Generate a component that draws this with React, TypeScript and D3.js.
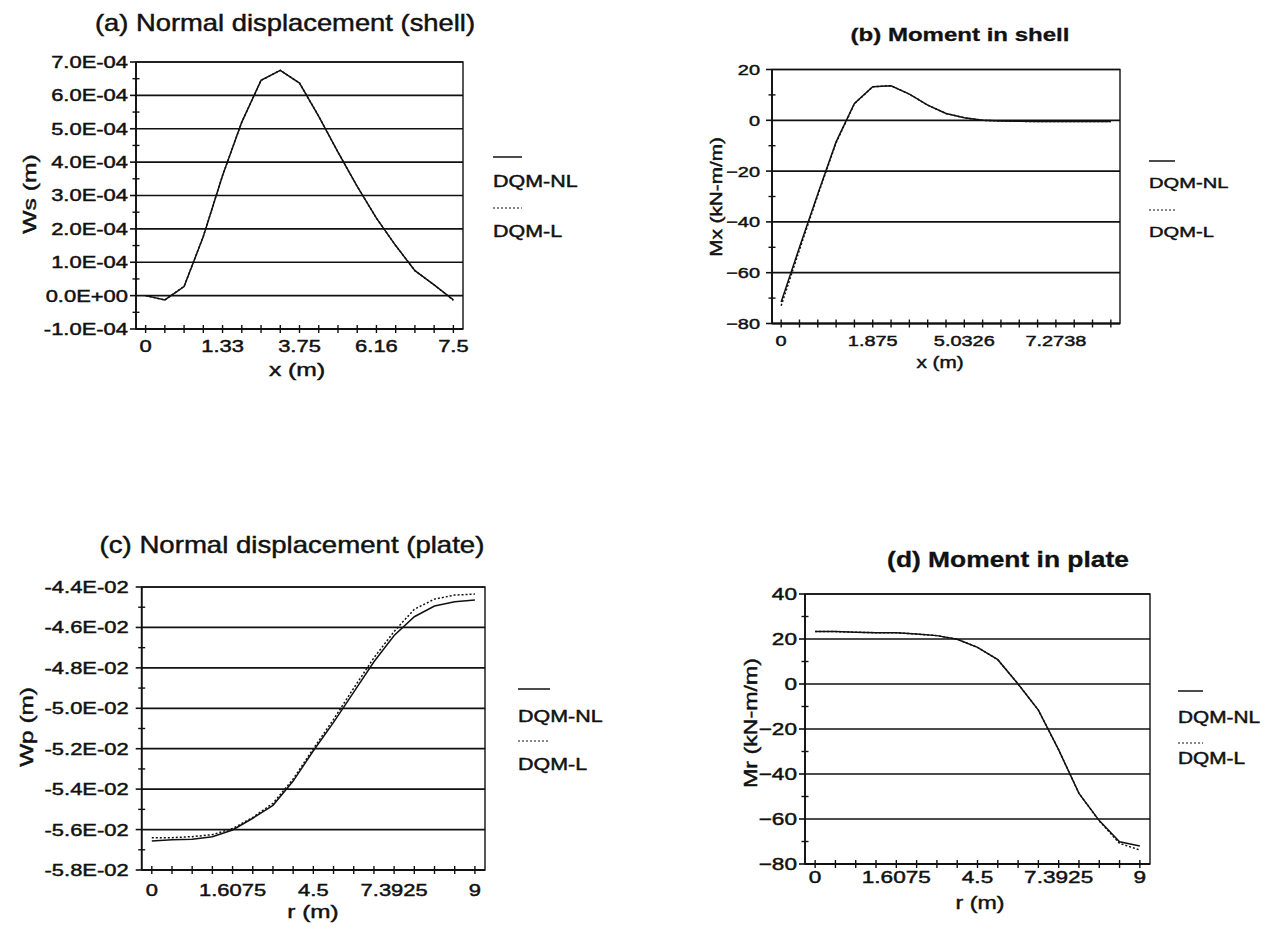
import React from "react";
import * as d3 from "d3";

const FONT = "'Liberation Sans', Arial, Helvetica, sans-serif";

// (a) normal displacement of the shell, 17 grid points along x
const xLabelsA = ["0", "1.33", "3.75", "6.16", "7.5"];
const yTicksA = [-1e-4, 0, 1e-4, 2e-4, 3e-4, 4e-4, 5e-4, 6e-4, 7e-4];
const wsNL = [0, -0.13e-4, 0.27e-4, 1.77e-4, 3.6e-4, 5.2e-4, 6.45e-4, 6.75e-4, 6.37e-4, 5.37e-4, 4.3e-4, 3.27e-4, 2.32e-4, 1.5e-4, 0.75e-4, 0.32e-4, -0.13e-4];
const wsL = [0, -0.13e-4, 0.28e-4, 1.78e-4, 3.6e-4, 5.2e-4, 6.45e-4, 6.75e-4, 6.37e-4, 5.37e-4, 4.3e-4, 3.27e-4, 2.32e-4, 1.5e-4, 0.75e-4, 0.32e-4, -0.14e-4];

// (b) moment in the shell, 19 grid points
const xLabelsB = ["0", "1.875", "5.0326", "7.2738"];
const yTicksB = [-80, -60, -40, -20, 0, 20];
const mxNL = [-71.5, -50, -29, -8.5, 6.6, 13.2, 13.6, 10.3, 6.0, 2.7, 1.0, 0.0, -0.3, -0.4, -0.5, -0.5, -0.5, -0.5, -0.5];
const mxL = [-73, -51, -29.5, -8.8, 6.5, 13.2, 13.6, 10.3, 6.0, 2.7, 1.0, 0.0, -0.3, -0.4, -0.5, -0.5, -0.5, -0.5, -0.5];

// (c) normal displacement of the plate, 17 grid points along r
const xLabelsC = ["0", "1.6075", "4.5", "7.3925", "9"];
const yTicksC = [-0.058, -0.056, -0.054, -0.052, -0.05, -0.048, -0.046, -0.044];
const wpNL = [-0.05657, -0.0565, -0.05648, -0.05635, -0.05602, -0.05544, -0.0548, -0.0536, -0.0521, -0.0507, -0.0492, -0.0477, -0.0464, -0.04547, -0.04494, -0.04473, -0.04464];
const wpL = [-0.0564, -0.0564, -0.05635, -0.05625, -0.05595, -0.0554, -0.0547, -0.0535, -0.0520, -0.05055, -0.0490, -0.0475, -0.0462, -0.0451, -0.0446, -0.0444, -0.04435];

// (d) moment in the plate, 17 grid points
const xLabelsD = ["0", "1.6075", "4.5", "7.3925", "9"];
const yTicksD = [-80, -60, -40, -20, 0, 20, 40];
const mrNL = [23.3, 23.3, 23.0, 22.8, 22.8, 22.2, 21.5, 19.9, 16.3, 10.8, 0, -11.6, -29.3, -48.6, -60.7, -70.1, -72.0];
const mrL = [23.3, 23.3, 23.0, 22.8, 22.8, 22.2, 21.5, 19.9, 16.3, 10.8, 0, -11.6, -29.3, -48.6, -60.9, -70.8, -73.8];

const legendNames = ["DQM-NL", "DQM-L"];

const fmtE = (v: number) => {
  const [m, e] = v.toExponential(1).split("e");
  const n = Math.abs(+e);
  return `${m}E${+e < 0 ? "-" : "+"}${n < 10 ? "0" + n : n}`;
};
const fmtInt = (v: number) => d3.format("d")(v);

// scanned text is wide and heavy, so stretch it a bit and add a thin outline
const Txt = ({ x, y, size, sx = 1.3, anchor = "start", rotate = 0, weight = "normal", children }: any) => (
  <text
    transform={`translate(${x},${y}) rotate(${rotate}) scale(${sx},1)`}
    fontSize={size}
    textAnchor={anchor}
    fontFamily={FONT}
    fontWeight={weight}
    fill="#111"
    stroke="#111"
    strokeWidth={weight === "bold" ? 0.3 : 0.45}
  >
    {children}
  </text>
);

const Panel = ({ cfg }: any) => {
  const { box, nl, lin, yTicks, fmt, xLabels, every } = cfg;
  const n = nl.length;
  const x = d3.scalePoint<number>().domain(d3.range(n)).range([box.left, box.right]).padding(0.5);
  const y = d3.scaleLinear().domain([yTicks[0], yTicks[yTicks.length - 1]]).range([box.bottom, box.top]);
  const line = d3.line<number>().x((_, i) => x(i)!).y(d => y(d));
  const step = yTicks[1] - yTicks[0];
  const minor = yTicks.slice(0, -1).map((t: number) => t + step / 2);
  const lg = cfg.legend;

  return (
    <g>
      <Txt x={cfg.title.x} y={cfg.title.y} size={cfg.title.size} sx={cfg.title.sx} anchor="middle" weight={cfg.title.weight}>
        {cfg.title.text}
      </Txt>

      {/* grid lines */}
      {yTicks.map((t: number) => (
        <line key={t} x1={box.left} x2={box.right} y1={y(t)} y2={y(t)} stroke="#111" strokeWidth={1.7} />
      ))}
      <rect x={box.left} y={box.top} width={box.right - box.left} height={box.bottom - box.top} fill="none" stroke="#111" strokeWidth={1.4} />

      {/* y axis ticks */}
      {yTicks.map((t: number) => (
        <g key={"yt" + t}>
          <line x1={box.left - 6} x2={box.left} y1={y(t)} y2={y(t)} stroke="#111" strokeWidth={1.6} />
          <Txt x={box.left - cfg.yGap} y={y(t) + cfg.tick * 0.36} size={cfg.tick} sx={1.33} anchor="end">
            {fmt(t)}
          </Txt>
        </g>
      ))}
      {minor.map((t: number) => (
        <line key={"ym" + t} x1={box.left - 3.5} x2={box.left + 3.5} y1={y(t)} y2={y(t)} stroke="#111" strokeWidth={1.4} />
      ))}
      <line x1={box.left} x2={box.left} y1={box.top} y2={box.bottom} stroke="#111" strokeWidth={1.8} />

      {/* x axis ticks */}
      <line x1={box.left} x2={box.right} y1={box.bottom} y2={box.bottom} stroke="#111" strokeWidth={1.8} />
      {d3.range(n).map(i => (
        <line key={"xt" + i} x1={x(i)} x2={x(i)} y1={box.bottom - 4} y2={box.bottom + 4} stroke="#111" strokeWidth={1.4} />
      ))}
      {xLabels.map((lab: string, k: number) => (
        <Txt key={"xl" + k} x={x(k * every)} y={cfg.xLabY} size={cfg.tick} sx={1.33} anchor="middle">
          {lab}
        </Txt>
      ))}

      <Txt x={cfg.xTitle.x} y={cfg.xTitle.y} size={cfg.axis} sx={cfg.axisSx} anchor="middle">
        {cfg.xTitle.text}
      </Txt>
      <Txt x={cfg.yTitle.x} y={cfg.yTitle.y} size={cfg.axis} sx={cfg.axisSx} anchor="middle" rotate={-90}>
        {cfg.yTitle.text}
      </Txt>

      {/* series */}
      <path d={line(nl)!} fill="none" stroke="#111" strokeWidth={1.5} />
      <path d={line(lin)!} fill="none" stroke="#111" strokeWidth={1.5} strokeDasharray="2,2" />

      {/* legend */}
      <line x1={lg.x} x2={lg.x + lg.w} y1={lg.y} y2={lg.y} stroke="#111" strokeWidth={1.5} />
      <Txt x={lg.x} y={lg.y + lg.d[0]} size={lg.size} sx={1.3}>{legendNames[0]}</Txt>
      <line x1={lg.x} x2={lg.x + lg.w} y1={lg.y + lg.d[1]} y2={lg.y + lg.d[1]} stroke="#111" strokeWidth={1.2} strokeDasharray="2,2" />
      <Txt x={lg.x} y={lg.y + lg.d[2]} size={lg.size} sx={1.3}>{legendNames[1]}</Txt>
    </g>
  );
};

const panels = [
  {
    box: { left: 136, right: 463, top: 62, bottom: 329 },
    nl: wsNL, lin: wsL, yTicks: yTicksA, fmt: fmtE, xLabels: xLabelsA, every: 4,
    title: { text: "(a) Normal displacement (shell)", x: 285, y: 31, size: 23, sx: 1.19, weight: "normal" },
    tick: 16.5, yGap: 8, xLabY: 352, axis: 19, axisSx: 1.3,
    xTitle: { text: "x (m)", x: 297, y: 376 },
    yTitle: { text: "Ws (m)", x: 36, y: 194 },
    legend: { x: 493, y: 157, w: 29, d: [30, 51, 80], size: 16.5 },
  },
  {
    box: { left: 772, right: 1120, top: 69.5, bottom: 323.5 },
    nl: mxNL, lin: mxL, yTicks: yTicksB, fmt: fmtInt, xLabels: xLabelsB, every: 5,
    title: { text: "(b) Moment in shell", x: 960, y: 41, size: 18.5, sx: 1.3, weight: "bold" },
    tick: 15, yGap: 12, xLabY: 346, axis: 17, axisSx: 1.22,
    xTitle: { text: "x (m)", x: 940, y: 368 },
    yTitle: { text: "Mx (kN-m/m)", x: 722, y: 197 },
    legend: { x: 1149, y: 161, w: 26, d: [27, 49, 76], size: 15.5 },
  },
  {
    box: { left: 141.7, right: 485, top: 587, bottom: 870 },
    nl: wpNL, lin: wpL, yTicks: yTicksC, fmt: fmtE, xLabels: xLabelsC, every: 4,
    title: { text: "(c) Normal displacement (plate)", x: 292, y: 553, size: 23, sx: 1.2, weight: "normal" },
    tick: 16.5, yGap: 13, xLabY: 896, axis: 19, axisSx: 1.28,
    xTitle: { text: "r (m)", x: 313, y: 918 },
    yTitle: { text: "Wp (m)", x: 33, y: 727 },
    legend: { x: 518, y: 689, w: 32, d: [33, 52, 81], size: 16.5 },
  },
  {
    box: { left: 805, right: 1150, top: 594, bottom: 864 },
    nl: mrNL, lin: mrL, yTicks: yTicksD, fmt: fmtInt, xLabels: xLabelsD, every: 4,
    title: { text: "(d) Moment in plate", x: 1008, y: 567, size: 22, sx: 1.2, weight: "bold" },
    tick: 17, yGap: 8, xLabY: 883, axis: 19, axisSx: 1.22,
    xTitle: { text: "r (m)", x: 980, y: 909 },
    yTitle: { text: "Mr (kN-m/m)", x: 757, y: 723 },
    legend: { x: 1178, y: 691, w: 25, d: [32, 52, 73], size: 16 },
  },
];

export default function App() {
  return (
    <svg
      width={1269}
      height={929}
      style={{ position: "absolute", left: 0, top: 0, background: "#fff" }}
    >
      <rect width={1269} height={929} fill="#fff" />
      {panels.map((p, i) => (
        <Panel key={i} cfg={p} />
      ))}
    </svg>
  );
}
